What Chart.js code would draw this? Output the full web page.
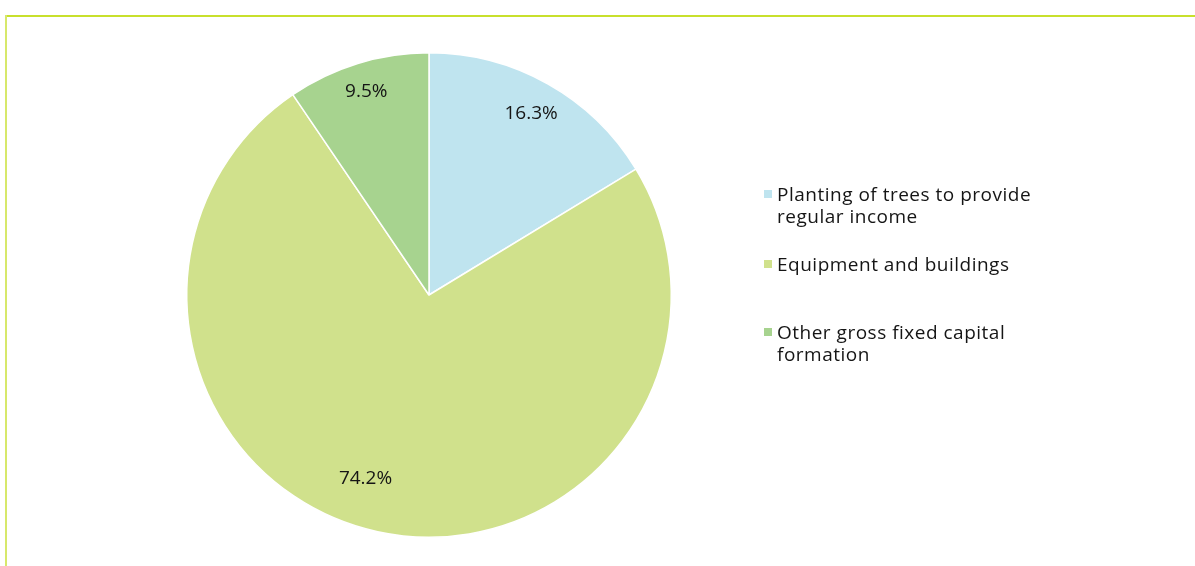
<!DOCTYPE html>
<html>
<head>
<meta charset="utf-8">
<script src="https://cdn.jsdelivr.net/npm/chart.js@4"></script>
<style>
    html, body { margin: 0; padding: 0; background: #fff; }
    #wrap { position: relative; width: 1195px; height: 566px; overflow: hidden; }
    #topLine { position: absolute; left: 5px; top: 15px; width: 1190px; height: 2px; background: #c8e02c; }
    #leftLine { position: absolute; left: 5px; top: 15px; width: 2px; height: 551px; background: #d7e86b; }
    #pieChart { position: absolute; left: 0; top: 0; }
    #legend { position: absolute; left: 764px; top: 0; font-family: 'Open Sans', sans-serif; font-size: 19px; letter-spacing: 0.5px; color: #151515; }
    .item { position: absolute; left: 0; width: 320px; line-height: 22px; padding-left: 13px; }
    .item span.box { position: absolute; left: 0; top: 7px; width: 8px; height: 8px; }
</style>
</head>
<body>
<div id="wrap">
    <div id="topLine"></div>
    <div id="leftLine"></div>
    <canvas id="pieChart" width="1195" height="566"></canvas>
    <div id="legend"></div>
</div>
<script>
// Chart data
const categories = [
    ['Planting of trees to provide', 'regular income'],
    ['Equipment and buildings'],
    ['Other gross fixed capital', 'formation']
];
const shares = [16.3, 74.2, 9.5];
const colors = ['#bfe4ef', '#d0e18c', '#a7d38f'];

// Legend item tops (px)
const legendTops = [183, 253, 321];

// Draw percentage labels inside slices
const sliceLabels = {
    id: 'sliceLabels',
    afterDatasetsDraw(chart) {
        const ctx = chart.ctx;
        const meta = chart.getDatasetMeta(0);
        const radial = [0.86, 0.8, 0.88];
        const turn = [0, 0.12, 0];
        ctx.save();
        ctx.font = '19px "Open Sans", sans-serif';
        ctx.fillStyle = '#151515';
        ctx.textAlign = 'center';
        ctx.textBaseline = 'middle';
        meta.data.forEach((arc, i) => {
            const mid = (arc.startAngle + arc.endAngle) / 2 + turn[i];
            const r = arc.outerRadius * radial[i];
            const x = arc.x + Math.cos(mid) * r;
            const y = arc.y + Math.sin(mid) * r;
            ctx.fillText(shares[i].toFixed(1) + '%', x, y);
        });
        ctx.restore();
    }
};

document.addEventListener('DOMContentLoaded', function () {
    const pieCtx = document.getElementById('pieChart').getContext('2d');
    new Chart(pieCtx, {
        type: 'pie',
        data: {
            labels: categories.map(c => c.join(' ')),
            datasets: [{
                data: shares,
                backgroundColor: colors,
                borderColor: '#ffffff',
                borderWidth: 1.5
            }]
        },
        options: {
            responsive: false,
            animation: false,
            layout: {
                padding: { left: 186, right: 523, top: 52, bottom: 28 }
            },
            plugins: {
                legend: { display: false },
                tooltip: { enabled: false }
            }
        },
        plugins: [sliceLabels]
    });

    // Build HTML legend
    const legend = document.getElementById('legend');
    categories.forEach((lines, i) => {
        const item = document.createElement('div');
        item.className = 'item';
        item.style.top = legendTops[i] + 'px';
        const box = document.createElement('span');
        box.className = 'box';
        box.style.background = colors[i];
        item.appendChild(box);
        lines.forEach((line, j) => {
            if (j > 0) item.appendChild(document.createElement('br'));
            item.appendChild(document.createTextNode(line));
        });
        legend.appendChild(item);
    });
});
</script>
</body>
</html>
